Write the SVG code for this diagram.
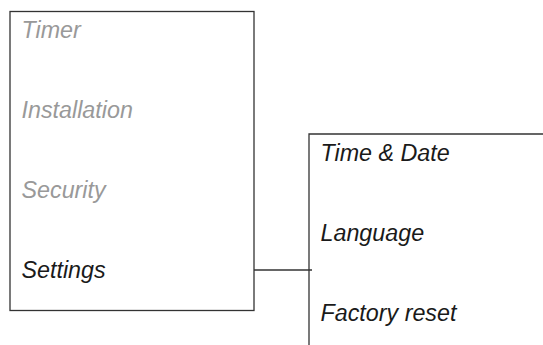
<svg xmlns="http://www.w3.org/2000/svg" width="543" height="345" viewBox="0 0 543 345">
<style>
.frame{fill:none;stroke:#333;stroke-width:1.3}
.t{font-family:"Liberation Sans",Arial,sans-serif;font-style:italic;font-size:23.3px}
.dim{fill:#999}
.act{fill:#1a1a1a}
</style>
<rect width="543" height="345" fill="#fff"/>
<g id="main-menu">
<rect class="frame" x="10" y="11.5" width="244" height="299"/>
<text class="t dim" x="21.5" y="37.5">Timer</text>
<text class="t dim" x="21.5" y="117.5">Installation</text>
<text class="t dim" x="21.5" y="197.5">Security</text>
<text class="t act" x="21.5" y="277.5">Settings</text>
</g>
<g id="settings-menu">
<path class="frame" d="M543 134H309V345"/>
<text class="t act" x="320.5" y="160.5">Time &amp; Date</text>
<text class="t act" x="320.5" y="241">Language</text>
<text class="t act" x="320.5" y="320.5">Factory reset</text>
</g>
<g id="connectors">
<line class="frame" x1="254" y1="270" x2="312" y2="270"/>
</g>
</svg>
